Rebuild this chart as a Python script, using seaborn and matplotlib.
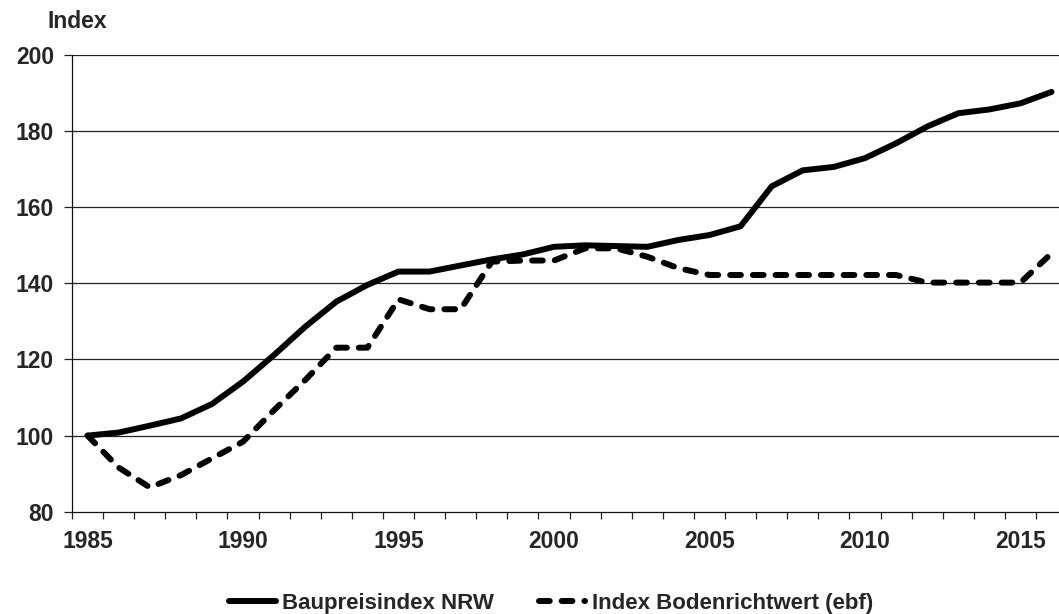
import numpy as np
import pandas as pd
import matplotlib
matplotlib.use('Agg')
import matplotlib.pyplot as plt
import seaborn as sns

# Data
years = list(range(1985, 2017))
baupreis = [100.0, 100.8, 102.6, 104.5, 108.3, 114.2, 121.2, 128.6, 135.2, 139.6,
            143.1, 143.1, 144.7, 146.3, 147.6, 149.6, 150.0, 149.8, 149.6, 151.4,
            152.7, 155.0, 165.5, 169.7, 170.6, 172.9, 176.8, 181.2, 184.7, 185.7,
            187.3, 190.3]
boden = [100.0, 91.6, 86.4, 89.6, 94.0, 98.4, 106.7, 114.6, 123.1, 123.1,
         135.8, 133.2, 133.2, 145.7, 146.0, 146.0, 149.2, 149.2, 147.0, 144.0,
         142.2, 142.2, 142.2, 142.2, 142.2, 142.2, 142.2, 140.2, 140.2, 140.2,
         140.2, 147.9]
series_names = ['Baupreisindex NRW', 'Index Bodenrichtwert (ebf)']
y_ticks = [80, 100, 120, 140, 160, 180, 200]
x_labels = [1985, 1990, 1995, 2000, 2005, 2010, 2015]

df = pd.DataFrame({
    'Jahr': years * 2,
    'Index': baupreis + boden,
    'Reihe': [series_names[0]] * len(years) + [series_names[1]] * len(years),
})

sns.set_style('white')
plt.rcParams['font.family'] = ['Liberation Sans', 'DejaVu Sans']
plt.rcParams['font.weight'] = 'bold'

fig = plt.figure(figsize=(10.59, 6.14), dpi=100)
ax = fig.add_axes([0.068, 0.1666, 0.932, 0.7438])

sns.lineplot(data=df, x='Jahr', y='Index', hue='Reihe', style='Reihe',
             palette=['black', 'black'],
             dashes={series_names[0]: '', series_names[1]: (1.8, 2.0)},
             linewidth=4.3, ax=ax, legend=True)
for line in ax.get_lines():
    line.set_dash_capstyle('round')
    line.set_solid_capstyle('round')
    line.set_solid_joinstyle('round')

ax.set_xlim(1984.5, 2016.24)
ax.set_ylim(80, 200)

# gridlines
for y in y_ticks[1:]:
    ax.axhline(y, color='#222222', linewidth=0.9, zorder=0)

ax.set_yticks(y_ticks)
ax.set_yticklabels([str(v) for v in y_ticks], fontsize=16.5, fontweight='bold')
ax.tick_params(axis='y', direction='out', length=6, width=0.9, color='#222222', pad=7, left=True)

ax.set_xticks(x_labels)
ax.set_xticklabels([str(v) for v in x_labels], fontsize=16.5, fontweight='bold')
ax.set_xticks(np.arange(1984.5, 2016.5, 1.0), minor=True)
ax.tick_params(axis='x', which='major', length=0, pad=13)
ax.tick_params(axis='x', which='minor', direction='out', length=5, width=0.9,
               color='#222222', bottom=True)

for side in ['top', 'right']:
    ax.spines[side].set_visible(False)
for side in ['left', 'bottom']:
    ax.spines[side].set_color('#111111')
    ax.spines[side].set_linewidth(0.9)

ax.set_xlabel('')
ax.set_ylabel('')
fig.text(0.045, 1 - 22 / 614, 'Index', fontsize=16.5, fontweight='bold', va='center', ha='left')

handles, labels = ax.get_legend_handles_labels()
leg = ax.legend(handles, labels, loc='center', bbox_to_anchor=(551 / 1059, 1 - 603 / 614),
                bbox_transform=fig.transFigure, ncol=2, frameon=False,
                prop={'size': 16, 'weight': 'bold'}, handlelength=2.1,
                handletextpad=0.3, columnspacing=2.0)
for h in leg.get_lines():
    h.set_linewidth(4.3)
    h.set_dash_capstyle('round')

fig.savefig('out.png', dpi=100)
